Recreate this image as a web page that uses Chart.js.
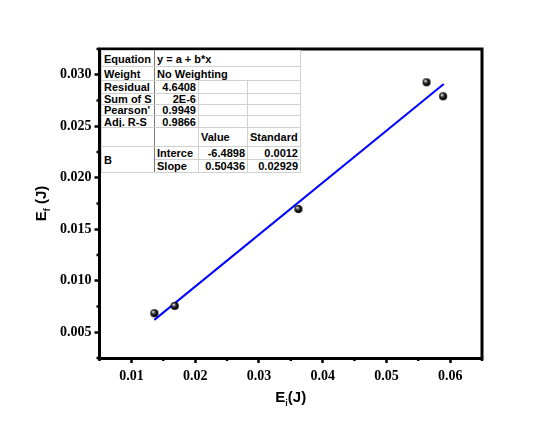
<!DOCTYPE html>
<html>
<head>
<meta charset="utf-8">
<script src="https://cdn.jsdelivr.net/npm/chart.js@4"></script>
<style>
  body { margin: 0; background: #fff; }
  #wrap { position: relative; width: 560px; height: 429px; }
  #chart { position: absolute; left: 0; top: 0; }
  #fit {
    position: absolute; left: 101px; top: 50px; width: 199px;
    border-collapse: collapse; table-layout: fixed; background: #fff;
    font: bold 11px "Liberation Sans", Arial, sans-serif; color: #000;
  }
  #fit td { border: 1px solid #d0d0d0; padding: 0 2px; white-space: nowrap; overflow: hidden; line-height: 10px; }
  #fit td.h { border-right-color: #777; }
  #fit .num { text-align: right; }
</style>
</head>
<body>
<div id="wrap">
  <canvas id="chart" width="560" height="429"></canvas>
  <table id="fit">
    <colgroup><col style="width:53px"><col style="width:44px"><col style="width:49px"><col style="width:53px"></colgroup>
    <tr style="height:16px"><td class="h">Equation</td><td colspan="3">y = a + b*x</td></tr>
    <tr style="height:14px"><td class="h">Weight</td><td colspan="3">No Weighting</td></tr>
    <tr style="height:13px"><td class="h">Residual</td><td class="num">4.6408</td><td></td><td></td></tr>
    <tr style="height:11px"><td class="h">Sum of S</td><td class="num">2E-6</td><td></td><td></td></tr>
    <tr style="height:10px"><td class="h">Pearson'</td><td class="num">0.9949</td><td></td><td></td></tr>
    <tr style="height:12px"><td class="h">Adj. R-S</td><td class="num">0.9866</td><td></td><td></td></tr>
    <tr style="height:19px"><td class="h"></td><td></td><td>Value</td><td>Standard</td></tr>
    <tr style="height:13px"><td class="h" rowspan="2">B</td><td>Interce</td><td class="num">-6.4898</td><td class="num">0.0012</td></tr>
    <tr style="height:13px"><td>Slope</td><td class="num">0.50436</td><td class="num">0.02929</td></tr>
  </table>
</div>
<script>
// measured points
const eIn = [0.0136, 0.0168, 0.0362, 0.0563, 0.0589]
const eOut = [0.00685, 0.00756, 0.01696, 0.02927, 0.02791]
// linear fit line ends
const fitX = [0.0136, 0.0590]
const fitY = [0.0062, 0.0291]

const xMin = 0.005, xMax = 0.065, xStep = 0.005, xMajor = 0.01
const yMin = 0.0025, yMax = 0.0325, yStep = 0.0025, yMajor = 0.005

const serif = "'Times New Roman', 'Liberation Serif', serif"
const sans = "Arial, 'Liberation Sans', sans-serif"

const isMajor = (v, step) => Math.abs(v / step - Math.round(v / step)) < 1e-6

// little shaded ball used as the marker
function ball(r) {
    const c = document.createElement('canvas')
    c.width = c.height = r * 2 + 2
    const g = c.getContext('2d')
    const m = r + 1
    const grad = g.createRadialGradient(m - r * 0.35, m - r * 0.4, 0.3, m, m, r)
    grad.addColorStop(0, '#ffffff')
    grad.addColorStop(0.25, '#777777')
    grad.addColorStop(0.6, '#111111')
    grad.addColorStop(1, '#000000')
    g.fillStyle = grad
    g.beginPath()
    g.arc(m, m, r, 0, Math.PI * 2)
    g.fill()
    return c
}

function drawTitle(ctx, main, sub, rest, x, y, angle) {
    ctx.save()
    ctx.translate(x, y)
    ctx.rotate(angle)
    ctx.fillStyle = '#000'
    ctx.textBaseline = 'alphabetic'
    const big = 'bold 15px ' + sans
    const small = 'bold 9px ' + sans
    ctx.font = big
    const w1 = ctx.measureText(main).width
    const w3 = ctx.measureText(rest).width
    ctx.font = small
    const w2 = ctx.measureText(sub).width
    let cx = -(w1 + w2 + w3) / 2
    ctx.font = big
    ctx.fillText(main, cx, 5)
    cx += w1
    ctx.font = small
    ctx.fillText(sub, cx, 9)
    cx += w2
    ctx.font = big
    ctx.fillText(rest, cx, 5)
    ctx.restore()
}

const frame = {
    id: 'frame',
    afterDraw(chart) {
        const { ctx, chartArea: a, scales } = chart
        ctx.save()
        ctx.strokeStyle = '#000'
        ctx.lineCap = 'square'
        ctx.lineWidth = 3
        ctx.beginPath()
        ctx.moveTo(a.left, a.top)
        ctx.lineTo(a.right, a.top)
        ctx.lineTo(a.right, a.bottom)
        ctx.stroke()

        // minor ticks
        ctx.lineCap = 'butt'
        ctx.lineWidth = 2.5
        ctx.beginPath()
        scales.x.ticks.forEach(t => {
            if (isMajor(t.value, xMajor)) return
            const px = scales.x.getPixelForValue(t.value)
            ctx.moveTo(px, a.bottom)
            ctx.lineTo(px, a.bottom + 3)
        })
        scales.y.ticks.forEach(t => {
            if (isMajor(t.value, yMajor)) return
            const py = scales.y.getPixelForValue(t.value)
            ctx.moveTo(a.left, py)
            ctx.lineTo(a.left - 3, py)
        })
        ctx.stroke()
        ctx.restore()

        drawTitle(ctx, 'E', 'f', ' (J)', 41, (a.top + a.bottom) / 2, -Math.PI / 2)
        drawTitle(ctx, 'E', 'i', '(J)', (a.left + a.right) / 2, 397, 0)
    }
}

new Chart(document.getElementById('chart'), {
    type: 'scatter',
    data: {
        datasets: [
            {
                data: eIn.map((x, i) => ({ x, y: eOut[i] })),
                pointStyle: ball(4),
                pointRadius: 4
            },
            {
                data: fitX.map((x, i) => ({ x, y: fitY[i] })),
                showLine: true,
                borderColor: '#0000ff',
                borderWidth: 2,
                pointRadius: 0
            }
        ]
    },
    plugins: [frame],
    options: {
        responsive: false,
        animation: false,
        layout: { padding: { top: 49, right: 78, left: 0, bottom: 0 } },
        plugins: { legend: { display: false }, tooltip: { enabled: false } },
        scales: {
            x: {
                type: 'linear',
                min: xMin,
                max: xMax,
                afterFit: s => { s.height = 71 },
                border: { display: true, color: '#000', width: 3 },
                grid: {
                    drawOnChartArea: false,
                    tickLength: 5,
                    tickWidth: 2.5,
                    tickColor: c => isMajor(c.tick.value, xMajor) ? '#000' : 'rgba(0,0,0,0)'
                },
                ticks: {
                    stepSize: xStep,
                    includeBounds: false,
                    autoSkip: false,
                    maxRotation: 0,
                    padding: 5,
                    color: '#000',
                    font: { family: serif, size: 14, weight: 'bold' },
                    callback: v => isMajor(v, xMajor) ? v.toFixed(2) : ''
                }
            },
            y: {
                type: 'linear',
                min: yMin,
                max: yMax,
                afterFit: s => { s.width = 99.5 },
                border: { display: true, color: '#000', width: 3 },
                grid: {
                    drawOnChartArea: false,
                    tickLength: 5,
                    tickWidth: 2.5,
                    tickColor: c => isMajor(c.tick.value, yMajor) ? '#000' : 'rgba(0,0,0,0)'
                },
                ticks: {
                    stepSize: yStep,
                    includeBounds: false,
                    autoSkip: false,
                    padding: 3,
                    color: '#000',
                    font: { family: serif, size: 14, weight: 'bold' },
                    callback: v => isMajor(v, yMajor) ? v.toFixed(3) : ''
                }
            }
        }
    }
})
</script>
</body>
</html>
